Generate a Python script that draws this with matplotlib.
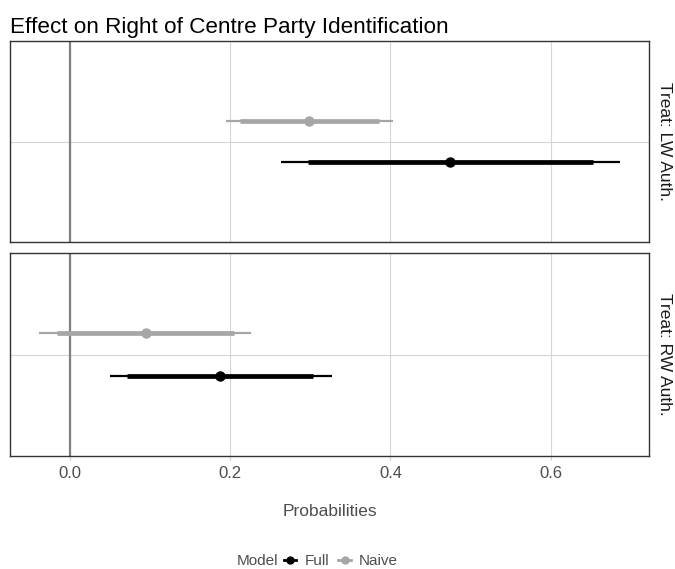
import numpy as np
import matplotlib
matplotlib.use("Agg")
import matplotlib.pyplot as plt
from matplotlib.lines import Line2D

plt.rcParams["font.family"] = ["Liberation Sans", "DejaVu Sans"]

# values
treatments = ["LW Auth.", "RW Auth."]
models = ["Full", "Naive"]
estimate = {"Full": [0.474, 0.188], "Naive": [0.299, 0.095]}
lo95 = {"Full": [0.263, 0.050], "Naive": [0.195, -0.038]}
hi95 = {"Full": [0.686, 0.327], "Naive": [0.403, 0.226]}
lo90 = {"Full": [0.297, 0.072], "Naive": [0.213, -0.016]}
hi90 = {"Full": [0.653, 0.304], "Naive": [0.386, 0.205]}

COLORS = {"Full": "black", "Naive": "#a6a6a6"}
OFFSET = {"Full": -0.125, "Naive": 0.125}
GREY_TEXT = "#4d4d4d"

fig = plt.figure(figsize=(6.75, 5.69), dpi=100)
left, right = 10 / 675, 649 / 675
panels = [(41, 242), (253, 456)]

all_vals = np.concatenate([lo95[m] for m in models] + [hi95[m] for m in models])
span = all_vals.max() - all_vals.min()
xlim = (all_vals.min() - 0.05 * span, all_vals.max() + 0.05 * span)

for i, (top, bot) in enumerate(panels):
    ax = fig.add_axes([left, 1 - bot / 569, right - left, (bot - top) / 569])
    ax.set_xlim(*xlim)
    ax.set_ylim(0.4, 1.6)
    ax.set_xticks([0.0, 0.2, 0.4, 0.6])
    ax.set_yticks([1.0])
    ax.grid(True, color="#d6d6d6", linewidth=0.8)
    ax.set_axisbelow(True)
    ax.axvline(0, color="#808080", linewidth=1.6, zorder=1.5)
    for s in ax.spines.values():
        s.set_color("#333333")
        s.set_linewidth(1.0)
    ax.tick_params(axis="y", length=0, labelleft=False)
    if i == 0:
        ax.tick_params(axis="x", length=0, labelbottom=False)
    else:
        ax.tick_params(axis="x", length=3, color="#cccccc", labelsize=12,
                       labelcolor=GREY_TEXT, pad=4)

    for m in models:
        y = 1 + OFFSET[m]
        c = COLORS[m]
        ax.hlines(y, lo95[m][i], hi95[m][i], color=c, linewidth=1.6, zorder=3)
        ax.hlines(y, lo90[m][i], hi90[m][i], color=c, linewidth=3.4, zorder=3)
        ax.plot(estimate[m][i], y, "o", color=c, markersize=6.5, zorder=4)

    ax.text(1.012, 0.5, "Treat: " + treatments[i], transform=ax.transAxes,
            rotation=-90, va="center", ha="left", fontsize=12.5, color="#1a1a1a")

fig.text(left, 1 - 27 / 569, "Effect on Right of Centre Party Identification",
         fontsize=16.2, va="center", ha="left")
fig.text((left + right) / 2, 1 - 511 / 569, "Probabilities", fontsize=12.5,
         color=GREY_TEXT, ha="center", va="center")

# legend at the bottom, title inline
fig.text(237 / 675, 1 - 561 / 569, "Model", fontsize=11, color=GREY_TEXT,
         ha="left", va="center")
handles = [Line2D([0], [0], color=COLORS[m], linewidth=2, marker="o", markersize=5)
           for m in models]
fig.legend(handles, models, loc="center left",
           bbox_to_anchor=(284 / 675, 1 - 561 / 569), ncol=2,
           frameon=False, fontsize=11, borderpad=0, borderaxespad=0,
           handlelength=0.8, handletextpad=0.55, columnspacing=0.6,
           labelcolor=GREY_TEXT)

fig.savefig("out.png", dpi=100)
